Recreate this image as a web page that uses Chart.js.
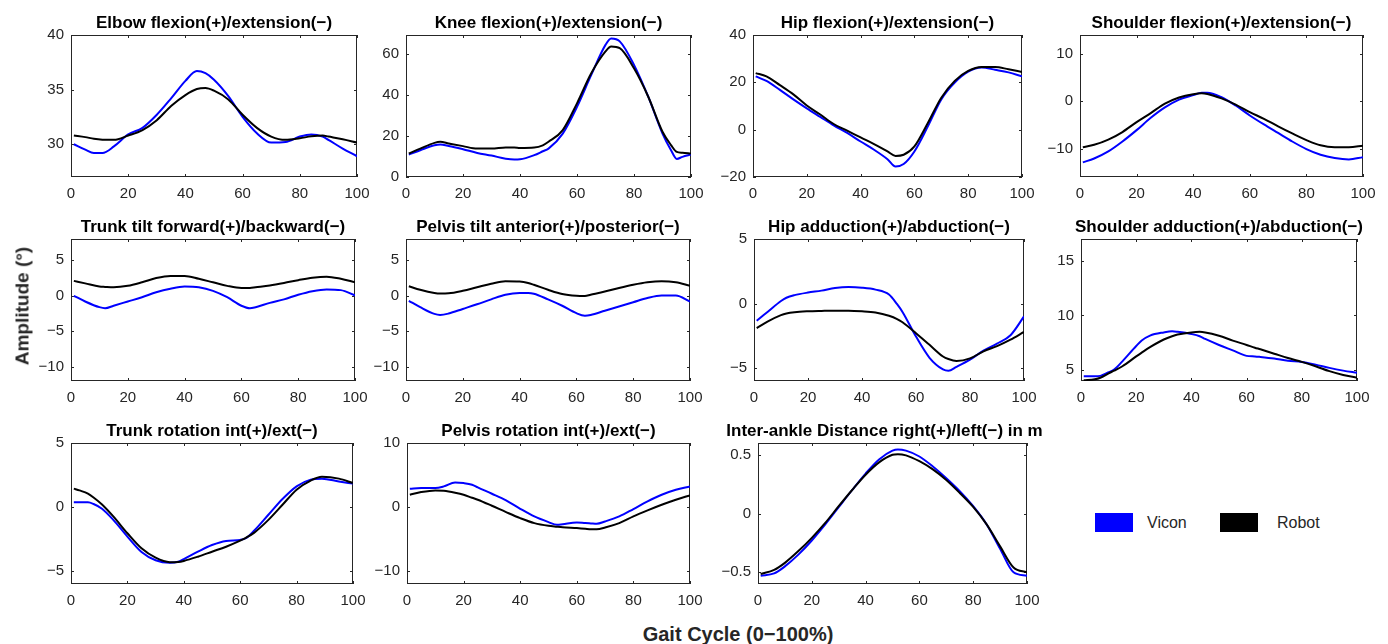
<!DOCTYPE html>
<html><head><meta charset="utf-8">
<script src="https://cdn.jsdelivr.net/npm/chart.js@4.4.0/dist/chart.umd.min.js"></script>
<style>
html,body{margin:0;padding:0;background:#fff;width:1388px;height:644px;overflow:hidden;font-family:'Liberation Sans',Arial,Helvetica,sans-serif;}
#wrap{position:relative;width:1388px;height:644px;}
#wrap canvas{position:absolute;}
.axlbl{position:absolute;font-weight:bold;color:#262626;font-size:19px;white-space:nowrap;line-height:1;}
.leg{position:absolute;font-size:16px;color:#262626;line-height:1;white-space:nowrap;}
.sw{position:absolute;width:38px;height:19px;}
</style></head><body>
<div id="wrap"></div>
<script>
// ---------- DATA ----------
const xTicks = [0, 20, 40, 60, 80, 100];
const seriesNames = ['Vicon', 'Robot'];

const elbowX = [1,5,8,11,15,20,25,30,35,40,44,47,50,55,60,65,70,75,80,84,88,90,95,100];
const elbowVicon = [30.0,29.5,29.2,29.2,29.8,30.9,31.5,32.7,34.2,35.8,36.7,36.5,35.9,34.4,32.5,31.0,30.15,30.2,30.7,30.9,30.7,30.4,29.6,28.9];
const elbowRobot = [30.8,30.65,30.5,30.42,30.4,30.8,31.3,32.2,33.5,34.5,35.05,35.15,34.9,34.1,32.7,31.5,30.7,30.4,30.55,30.72,30.8,30.7,30.45,30.15];
const elbowTicks = [30, 35, 40];

const kneeX = [1,5,10,12,15,20,25,30,35,38,40,45,48,50,55,60,65,70,72,75,80,85,90,93,95,97,100];
const kneeVicon = [10.9,13.0,15.4,15.8,15.1,13.5,11.7,10.4,8.9,8.5,8.6,10.6,12.5,13.8,21.1,34.1,49.6,64.2,67.3,65.9,54.5,39.0,21.1,13.0,8.8,9.8,10.9];
const kneeRobot = [11.4,13.8,16.6,17.1,16.3,15.0,13.8,13.8,14.3,14.3,14.1,14.3,15.4,17.1,22.8,35.8,50.4,61.0,63.4,62.6,52.8,39.0,22.0,15.5,12.2,11.8,11.4];
const kneeTicks = [0, 20, 40, 60];

const hipFlexX = [1,5,10,15,20,25,30,35,40,45,50,53,56,60,65,70,75,80,85,90,95,100];
const hipFlexVicon = [22.5,20.6,16.8,12.8,9.0,5.4,1.8,-1.4,-5.0,-8.5,-12.5,-15.6,-14.5,-9.2,1.4,12.8,19.9,24.5,26.3,25.3,24.2,22.5];
const hipFlexRobot = [23.9,22.5,18.8,14.9,10.2,6.4,2.4,-0.4,-3.3,-6.1,-9.2,-11.1,-10.6,-7.1,2.8,13.5,20.6,24.8,26.5,26.5,25.5,24.4];
const hipFlexTicks = [-20, 0, 20, 40];

const shFlexX = [1,5,10,15,20,25,30,35,40,43,45,50,55,60,65,70,75,80,85,90,95,100];
const shFlexVicon = [-12.9,-12.1,-10.6,-8.5,-6.1,-3.5,-1.3,0.35,1.3,1.8,1.8,0.85,-0.9,-3.0,-4.9,-6.7,-8.5,-10.1,-11.3,-12.0,-12.3,-11.8];
const shFlexRobot = [-9.7,-9.2,-8.1,-6.5,-4.4,-2.5,-0.5,0.8,1.5,1.7,1.55,0.6,-0.7,-2.3,-3.7,-5.3,-6.8,-8.2,-9.3,-9.7,-9.7,-9.4];
const shFlexTicks = [-10, 0, 10];

const trunkTiltX = [1,5,10,12,15,20,25,30,35,40,45,50,55,60,63,65,70,75,80,85,90,95,100];
const trunkTiltVicon = [0,-0.8,-1.6,-1.75,-1.4,-0.8,-0.2,0.5,1.0,1.3,1.2,0.7,-0.2,-1.4,-1.75,-1.6,-1.0,-0.5,0.15,0.65,0.9,0.8,0.05];
const trunkTiltRobot = [2.1,1.75,1.3,1.25,1.2,1.4,1.9,2.5,2.8,2.8,2.4,1.9,1.4,1.1,1.1,1.2,1.45,1.8,2.2,2.55,2.7,2.4,1.9];
const trunkTiltTicks = [-10, -5, 0, 5];

const pelvisTiltX = [1,5,10,12,15,20,25,30,35,40,43,45,50,55,60,63,65,70,75,80,85,90,95,100];
const pelvisTiltVicon = [-0.7,-1.6,-2.55,-2.7,-2.5,-1.85,-1.2,-0.5,0.15,0.4,0.4,0.3,-0.5,-1.4,-2.45,-2.8,-2.7,-2.1,-1.5,-0.9,-0.3,0.05,0.05,-0.8];
const pelvisTiltRobot = [1.35,0.85,0.4,0.32,0.35,0.7,1.2,1.7,2.05,2.0,1.8,1.55,0.85,0.25,0,-0.03,0.15,0.6,1.1,1.55,1.9,2.05,1.9,1.4];
const pelvisTiltTicks = [-10, -5, 0, 5];

const hipAddX = [1,5,10,12,15,20,25,30,35,40,45,50,53,55,60,65,70,72,75,80,85,90,95,100];
const hipAddVicon = [-1.33,-0.65,0.2,0.45,0.65,0.85,1.0,1.2,1.28,1.23,1.08,0.7,-0.05,-0.65,-2.56,-4.2,-5.1,-5.2,-4.9,-4.35,-3.65,-3.1,-2.45,-1.0];
const hipAddRobot = [-1.9,-1.4,-0.9,-0.77,-0.67,-0.6,-0.57,-0.55,-0.55,-0.6,-0.7,-0.95,-1.2,-1.45,-2.3,-3.2,-4.1,-4.3,-4.45,-4.25,-3.7,-3.3,-2.8,-2.2];
const hipAddTicks = [-5, 0, 5];

const shAddX = [1,5,7,10,12,15,20,22,25,30,33,35,40,43,45,50,55,60,63,65,70,75,80,85,90,95,100];
const shAddVicon = [4.44,4.44,4.47,4.8,5.05,5.8,7.2,7.7,8.15,8.45,8.55,8.5,8.3,8.1,7.85,7.3,6.8,6.3,6.25,6.2,6.05,5.85,5.75,5.5,5.2,4.95,4.75];
const shAddRobot = [4.07,4.16,4.3,4.7,4.95,5.35,6.25,6.6,7.1,7.8,8.1,8.25,8.45,8.5,8.45,8.15,7.7,7.3,7.05,6.9,6.5,6.1,5.75,5.35,4.9,4.55,4.3];
const shAddTicks = [5, 10, 15];

const trunkRotX = [1,3,6,8,11,15,20,25,30,35,38,40,45,50,55,60,62,65,70,75,80,85,89,95,100];
const trunkRotVicon = [0.37,0.37,0.37,0.24,-0.13,-1.0,-2.3,-3.5,-4.15,-4.35,-4.27,-4.06,-3.48,-2.96,-2.64,-2.56,-2.43,-1.83,-0.6,0.63,1.62,2.14,2.22,2.0,1.83];
const trunkRotRobot = [1.44,1.3,1.05,0.75,0.2,-0.73,-2.04,-3.22,-3.95,-4.3,-4.28,-4.2,-3.87,-3.48,-3.09,-2.62,-2.4,-1.99,-1.0,0.18,1.36,2.07,2.36,2.22,1.88];
const trunkRotTicks = [-5, 0, 5];

const pelvisRotX = [1,5,10,13,17,20,23,25,30,35,40,45,50,53,55,60,63,65,67,70,75,80,85,90,95,100];
const pelvisRotVicon = [2.86,2.97,2.97,3.23,3.85,3.75,3.49,3.07,2.08,1.04,-0.26,-1.46,-2.34,-2.76,-2.66,-2.4,-2.5,-2.55,-2.6,-2.24,-1.46,-0.31,0.89,1.93,2.7,3.23];
const pelvisRotRobot = [1.93,2.34,2.6,2.55,2.25,1.93,1.45,1.15,0.21,-0.78,-1.72,-2.5,-2.92,-3.05,-3.13,-3.28,-3.38,-3.44,-3.44,-3.18,-2.5,-1.46,-0.52,0.36,1.15,1.82];
const pelvisRotTicks = [-10, 0, 10];

const ankleX = [1,6,10,15,20,25,30,35,40,45,50,52,55,60,65,70,75,80,85,90,95,100];
const ankleVicon = [-0.53,-0.51,-0.45,-0.35,-0.23,-0.093,0.054,0.2,0.34,0.46,0.535,0.545,0.535,0.485,0.4,0.3,0.19,0.062,-0.093,-0.3,-0.5,-0.53];
const ankleRobot = [-0.515,-0.48,-0.42,-0.32,-0.207,-0.08,0.062,0.2,0.33,0.435,0.5,0.505,0.495,0.445,0.375,0.285,0.175,0.056,-0.093,-0.28,-0.46,-0.5];
const ankleTicks = [-0.5, 0, 0.5];

// ---------- PANELS (titles, limits, layout) ----------
const panels = [
  {title:'Elbow flexion(+)/extension(\u2212)', x:elbowX, a:elbowVicon, b:elbowRobot, ticks:elbowTicks, min:27, max:40, left:71, top:35, w:286, h:142},
  {title:'Knee flexion(+)/extension(\u2212)', x:kneeX, a:kneeVicon, b:kneeRobot, ticks:kneeTicks, min:0, max:69, left:406, top:35, w:285, h:142},
  {title:'Hip flexion(+)/extension(\u2212)', x:hipFlexX, a:hipFlexVicon, b:hipFlexRobot, ticks:hipFlexTicks, min:-20, max:40, left:753, top:35, w:269, h:142},
  {title:'Shoulder flexion(+)/extension(\u2212)', x:shFlexX, a:shFlexVicon, b:shFlexRobot, ticks:shFlexTicks, min:-16, max:14, left:1080, top:35, w:283, h:142},
  {title:'Trunk tilt forward(+)/backward(\u2212)', x:trunkTiltX, a:trunkTiltVicon, b:trunkTiltRobot, ticks:trunkTiltTicks, min:-12, max:8, left:71, top:239, w:284, h:142},
  {title:'Pelvis tilt anterior(+)/posterior(\u2212)', x:pelvisTiltX, a:pelvisTiltVicon, b:pelvisTiltRobot, ticks:pelvisTiltTicks, min:-12, max:8, left:406, top:239, w:284, h:142},
  {title:'Hip adduction(+)/abduction(\u2212)', x:hipAddX, a:hipAddVicon, b:hipAddRobot, ticks:hipAddTicks, min:-6, max:5, left:754, top:239, w:270, h:142},
  {title:'Shoulder adduction(+)/abduction(\u2212)', x:shAddX, a:shAddVicon, b:shAddRobot, ticks:shAddTicks, min:4, max:17, left:1081, top:239, w:276, h:142},
  {title:'Trunk rotation int(+)/ext(\u2212)', x:trunkRotX, a:trunkRotVicon, b:trunkRotRobot, ticks:trunkRotTicks, min:-6, max:5, left:71, top:443, w:282, h:141},
  {title:'Pelvis rotation int(+)/ext(\u2212)', x:pelvisRotX, a:pelvisRotVicon, b:pelvisRotRobot, ticks:pelvisRotTicks, min:-12, max:10, left:407, top:443, w:283, h:141},
  {title:'Inter-ankle Distance right(+)/left(\u2212) in m', x:ankleX, a:ankleVicon, b:ankleRobot, ticks:ankleTicks, min:-0.6, max:0.6, left:758, top:443, w:269, h:141, rw:44}
];

const FONT = "'Liberation Sans', Arial, Helvetica, sans-serif";
const AXC = '#262626';
const PADL = 60, PADT = 35, PADB = 30;

function fmt(v) {
  const s = String(Math.round(Math.abs(v) * 1000) / 1000);
  return v < 0 ? '\u2212' + s : s;
}

const boxPlugin = {
  id: 'matlabBox',
  beforeDatasetsDraw(chart) {
    const {ctx, chartArea: a, scales: {x, y}} = chart;
    const L = Math.round(a.left), R = Math.round(a.right), T = Math.round(a.top), B = Math.round(a.bottom);
    ctx.save();
    ctx.strokeStyle = AXC;
    ctx.lineWidth = 1;
    ctx.strokeRect(L + 0.5, T + 0.5, R - L - 1, B - T - 1);
    const tl = 3;
    ctx.beginPath();
    x.ticks.forEach(t => {
      const px = Math.round(x.getPixelForValue(t.value)) + 0.5;
      ctx.moveTo(px, B); ctx.lineTo(px, B - tl);
      ctx.moveTo(px, T); ctx.lineTo(px, T + tl);
    });
    y.ticks.forEach(t => {
      const py = Math.round(y.getPixelForValue(t.value)) + 0.5;
      ctx.moveTo(L, py); ctx.lineTo(L + tl, py);
      ctx.moveTo(R, py); ctx.lineTo(R - tl, py);
    });
    ctx.stroke();
    ctx.restore();
  }
};

const wrap = document.getElementById('wrap');
panels.forEach(p => {
  const rw = p.rw || PADL;
  const c = document.createElement('canvas');
  const W = p.w + PADL + rw, H = p.h + PADT + PADB;
  c.width = W; c.height = H;
  c.style.left = (p.left - PADL) + 'px';
  c.style.top = (p.top - PADT) + 'px';
  c.style.width = W + 'px'; c.style.height = H + 'px';
  wrap.appendChild(c);
  const mk = (ys) => p.x.map((xv, i) => ({x: xv, y: ys[i]}));
  new Chart(c, {
    type: 'line',
    data: {
      datasets: [
        {label: seriesNames[0], data: mk(p.a), borderColor: '#0000ff', borderWidth: 2, pointRadius: 0, cubicInterpolationMode: 'monotone', fill: false, order: 2},
        {label: seriesNames[1], data: mk(p.b), borderColor: '#000000', borderWidth: 2, pointRadius: 0, cubicInterpolationMode: 'monotone', fill: false, order: 1}
      ]
    },
    options: {
      responsive: false, animation: false, devicePixelRatio: 1,
      layout: {padding: 0},
      plugins: {
        legend: {display: false},
        tooltip: {enabled: false},
        title: {display: true, text: p.title, fullSize: true, color: '#000',
                font: {family: FONT, size: 17, weight: 'bold'}, padding: {top: 13, bottom: 1.6}}
      },
      scales: {
        x: {
          type: 'linear', min: 0, max: 100,
          grid: {display: false, drawTicks: false}, border: {display: false},
          ticks: {font: {family: FONT, size: 15}, color: AXC, padding: 8, maxRotation: 0, autoSkip: false, callback: fmt},
          afterBuildTicks: s => { s.ticks = xTicks.map(v => ({value: v})); },
          afterFit: s => { s.height = PADB; }
        },
        y: {
          type: 'linear', position: 'left', min: p.min, max: p.max,
          grid: {display: false, drawTicks: false}, border: {display: false},
          ticks: {font: {family: FONT, size: 15}, color: AXC, padding: 7, autoSkip: false, callback: fmt},
          afterBuildTicks: s => { s.ticks = p.ticks.map(v => ({value: v})); },
          afterFit: s => { s.width = PADL; }
        },
        yRight: {
          type: 'linear', position: 'right', display: true,
          grid: {display: false, drawTicks: false}, border: {display: false},
          ticks: {display: false},
          afterFit: s => { s.width = rw; }
        }
      }
    },
    plugins: [boxPlugin]
  });
});

// global axis labels and legend (HTML text)
function addDiv(cls, text, css) {
  const d = document.createElement('div');
  d.className = cls; d.textContent = text;
  Object.assign(d.style, css);
  wrap.appendChild(d);
  return d;
}
addDiv('axlbl', 'Amplitude (\u00b0)', {left: '22px', top: '306px', transform: 'translate(-50%,-50%) rotate(-90deg)'});
addDiv('axlbl', 'Gait Cycle (0\u2212100%)', {left: '738px', top: '634px', fontSize: '20px', transform: 'translate(-50%,-50%)'});
addDiv('sw', '', {left: '1095px', top: '513px', background: '#0000ff'});
addDiv('leg', seriesNames[0], {left: '1147px', top: '523px', transform: 'translateY(-50%)'});
addDiv('sw', '', {left: '1220px', top: '513px', background: '#000000'});
addDiv('leg', seriesNames[1], {left: '1277px', top: '523px', transform: 'translateY(-50%)'});
</script>
</body></html>
